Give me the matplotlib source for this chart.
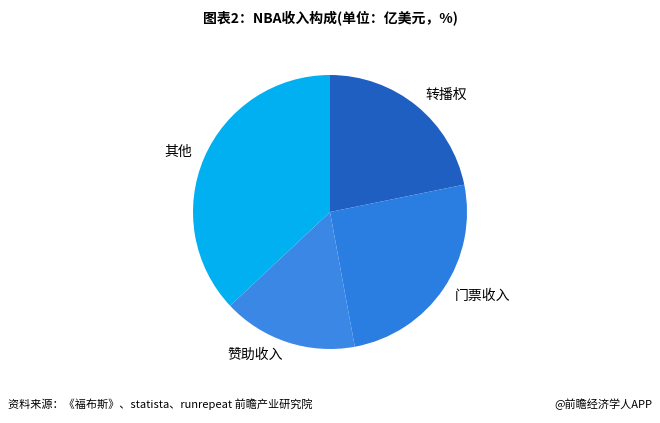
import matplotlib
matplotlib.use("Agg")
import matplotlib.pyplot as plt
plt.rcParams['font.family'] = ['Noto Sans CJK SC']

labels = ["转播权", "门票收入", "赞助收入", "其他"]
values = [21.8, 25.3, 15.9, 37.0]
colors = ["#1f5fc2", "#2a7de1", "#3b87e6", "#00b0f0"]

fig = plt.figure(figsize=(6.6, 4.23), dpi=100)
ax = fig.add_axes([(330 - 137) / 660, (423 - 212 - 137) / 423, 274 / 660, 274 / 423])
ax.pie(values, colors=colors, startangle=90, counterclock=False,
       labels=labels, labeldistance=1.1, textprops={'fontsize': 10},
       wedgeprops={'linewidth': 0})
ax.set_xlim(-1, 1)
ax.set_ylim(-1, 1)
ax.set_aspect('equal')
fig.text(0.5, 0.955, "图表2：NBA收入构成(单位：亿美元，%)", ha='center', va='center',
         fontsize=10, fontweight='bold')
fig.text(0.012, 0.045, "资料来源：《福布斯》、statista、runrepeat 前瞻产业研究院", ha='left', va='center', fontsize=8)
fig.text(0.988, 0.045, "@前瞻经济学人APP", ha='right', va='center', fontsize=8)
fig.savefig("out.png", dpi=100)
